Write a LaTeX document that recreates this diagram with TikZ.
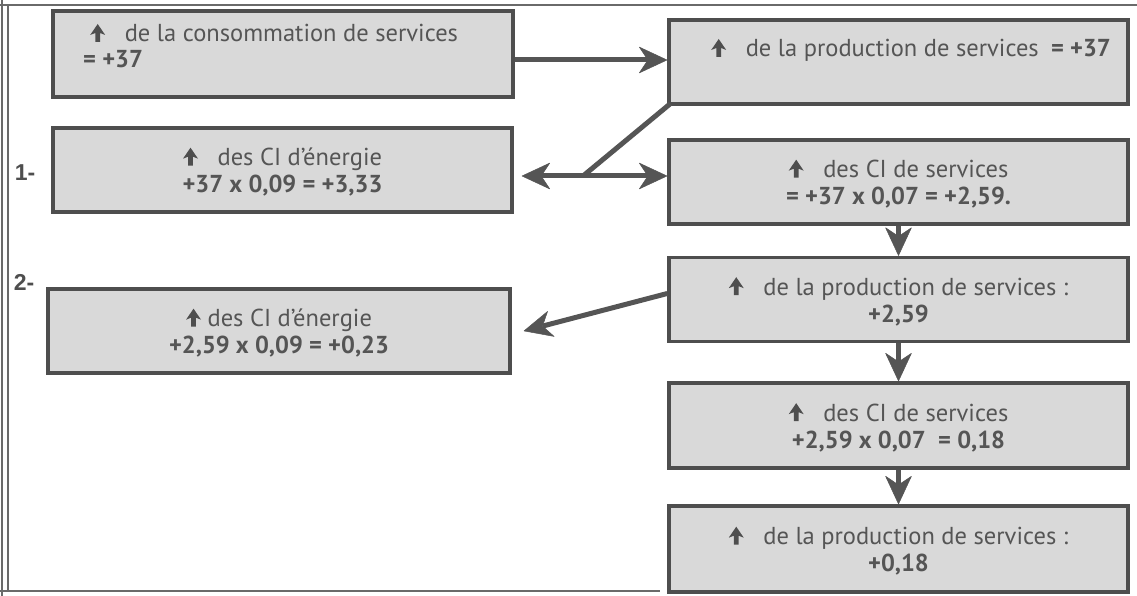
\documentclass[tikz,border=0pt]{standalone}
\usepackage{fontspec}
\setmainfont{PT Sans}
\newfontfamily\labfont{Liberation Sans}
\usetikzlibrary{arrows.meta}
\definecolor{boxfill}{HTML}{D9D9D9}
\definecolor{boxdraw}{HTML}{4E4E4E}
\definecolor{txtcol}{HTML}{555555}
\definecolor{framecol}{HTML}{6A6A6A}
\newcommand{\uparr}{\tikz[baseline=0pt,x=1pt,y=1pt,line width=0pt]{\fill[boxdraw] (-2.4,0) -- (-2.4,9) -- (-7.5,7) -- (0,18) -- (7.5,7) -- (2.4,9) -- (2.4,0) -- cycle;}}
\begin{document}
\begin{tikzpicture}[x=1pt,y=-1pt,
  box/.style={draw=boxdraw, fill=boxfill, line width=3.5pt, inner sep=0pt, minimum width=459pt},
  txt/.style={text=txtcol, inner sep=0pt, align=center, font=\fontsize{24.5}{27}\selectfont},
  lab/.style={text=boxdraw, inner sep=0pt, font=\labfont\bfseries\fontsize{23}{26}\selectfont},
  conn/.style={draw=txtcol, line width=5pt},
  tip/.tip={Stealth[length=29pt,width=27pt,inset=9pt,line width=0.5pt,round=false,fill=txtcol]},
  arr/.style={conn, -tip},
  arr2/.style={conn, tip-tip},
  frame/.style={draw=framecol, line width=1.6pt}]
\useasboundingbox (0,0) rectangle (1137,596);
% frame
\draw[frame] (0,5) -- (1137,5);
\draw[frame, line width=1.1pt] (2,0) -- (2,596);
\draw[frame, line width=1.1pt] (8,5) -- (8,591);
\draw[frame] (0,591) -- (660,591);
% boxes
\node[box, minimum width=460pt, minimum height=86pt] (b1) at (283,54) {};
\node[box, minimum height=84pt] (b2) at (898.5,62) {};
\node[box, minimum height=84pt] (b3) at (282.5,170) {};
\node[box, minimum height=84pt] (b4) at (898.5,182) {};
\node[box, minimum height=84pt] (b5) at (898.5,299.5) {};
\node[box, minimum width=462pt, minimum height=84pt] (b6) at (279,331) {};
\node[box, minimum height=85pt] (b7) at (898.5,425.5) {};
\node[box, minimum height=86pt] (b8) at (898.5,549) {};
% texts
\node[txt, anchor=base west] (t1a) at (90,42) {\uparr\hspace{0.8em}de la consommation de services};
\node[txt, anchor=base west] (t1b) at (83,68) {\bfseries = +37};
\node[txt, anchor=base west] (t2) at (711,57) {\uparr\hspace{0.8em}de la production de services\hspace{0.5em}\textbf{= +37}};
\node[txt] (t3) at ([yshift=-2pt]b3.center) {\uparr\hspace{0.8em}des CI d’énergie\\\textbf{+37 x 0,09 = +3,33}};
\node[txt] (t4) at ([yshift=-2pt]b4.center) {\uparr\hspace{0.8em}des CI de services\\\textbf{= +37 x 0,07 = +2,59.}};
\node[txt] (t5) at ([yshift=-2pt]b5.center) {\uparr\hspace{0.8em}de la production de services :\\\textbf{+2,59}};
\node[txt] (t6) at ([yshift=-2pt]b6.center) {\uparr\ des CI d’énergie\\\textbf{+2,59 x 0,09 = +0,23}};
\node[txt] (t7) at ([yshift=-2pt]b7.center) {\uparr\hspace{0.8em}des CI de services\\\textbf{+2,59 x 0,07\ \ = 0,18}};
\node[txt] (t8) at ([yshift=-2pt]b8.center) {\uparr\hspace{0.8em}de la production de services :\\\textbf{+0,18}};
% labels
\node[lab] (l1) at (25,173) {1-};
\node[lab] (l2) at (24,282) {2-};
% connectors
\coordinate (y1) at (0,60);
\draw[arr] (b1.east |- y1) -- (b2.west |- y1);
\coordinate (j) at (583,176);
\draw[conn] ([xshift=3pt,yshift=2pt]b2.south west) -- (j);
\draw[arr2] ([xshift=8pt]b3.east |- j) -- (b4.west |- j);
\draw[arr] ([yshift=6pt]b5.west) -- ([xshift=12pt]b6.east);
\draw[arr] (b4.south) -- (b5.north);
\draw[arr] (b5.south) -- (b7.north);
\draw[arr] (b7.south) -- (b8.north);
\end{tikzpicture}
\end{document}
